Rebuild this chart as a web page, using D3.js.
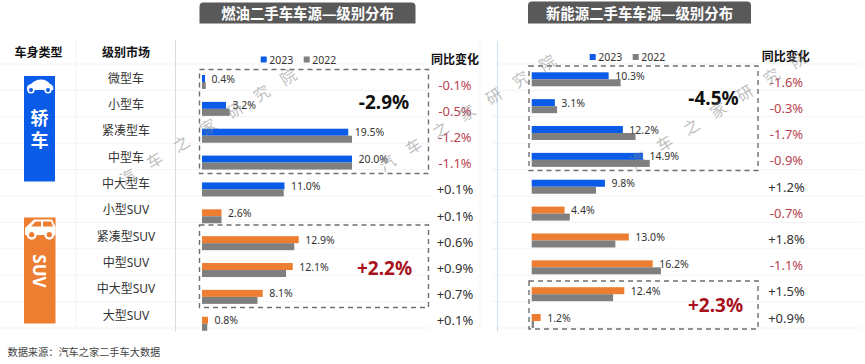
<!DOCTYPE html>
<html>
<head>
<meta charset="utf-8">
<script src="https://cdn.jsdelivr.net/npm/d3@7"></script>
<style>
    html, body { margin: 0; padding: 0; background: #fff; }
    text { font-family: "Noto Sans", "Noto Sans CJK SC", sans-serif; }
</style>
</head>
<body>
<div id="chart"></div>
<script>
const categories = ["微型车", "小型车", "紧凑型车", "中型车", "中大型车", "小型SUV", "紧凑型SUV", "中型SUV", "中大型SUV", "大型SUV"];
const bodyTypes = ["轿车", "轿车", "轿车", "轿车", "轿车", "SUV", "SUV", "SUV", "SUV", "SUV"];
const years = ["2023", "2022"];

const fuel2023 = [0.4, 3.2, 19.5, 20.0, 11.0, 2.6, 12.9, 12.1, 8.1, 0.8];
const fuel2022 = [0.5, 3.7, 20.0, 20.0, 10.9, 2.6, 12.3, 11.2, 7.4, 0.7];
const fuelChange = ["-0.1%", "-0.5%", "-1.2%", "-1.1%", "+0.1%", "+0.1%", "+0.6%", "+0.9%", "+0.7%", "+0.1%"];

const nev2023 = [10.3, 3.1, 12.2, 14.9, 9.8, 4.4, 13.0, 16.2, 12.4, 1.2];
const nev2022 = [11.9, 3.4, 13.9, 15.8, 8.6, 5.1, 11.2, 17.3, 10.9, 0.3];
const nevChange = ["-1.6%", "-0.3%", "-1.7%", "-0.9%", "+1.2%", "-0.7%", "+1.8%", "-1.1%", "+1.5%", "+0.9%"];

const BLUE = "#0a5ce8", ORANGE = "#ed7d31", GRAY = "#7f7f7f", RED = "#b8434e", DARKRED = "#a8111c";

const svg = d3.select("#chart").append("svg")
    .attr("width", 865)
    .attr("height", 364)
    .style("display", "block");

// faint table rules behind everything
const catY = d3.scalePoint().domain(categories).range([78, 315.3]);
const ruleY = d3.range(11).map(i => 64 + i * 26.4);
[[0, 430], [492, 862]].forEach(([a, b]) => {
    svg.append("g").selectAll("line").data(ruleY).join("line")
        .attr("x1", a).attr("x2", b)
        .attr("y1", d => d).attr("y2", d => d)
        .attr("stroke", "#f3f3f3");
});
[[76, 40, 328, "#f3f3f3"], [175.5, 40, 332, "#d5dee5"], [480, 40, 328, "#f6f6f6"], [497.5, 41, 332, "#cfe1ec"]].forEach(([x, y1, y2, c]) => {
    svg.append("line").attr("x1", x).attr("x2", x).attr("y1", y1).attr("y2", y2).attr("stroke", c);
});

function titleBar(x, y, w, h, label) {
    const r = 4;
    svg.append("path")
        .attr("d", `M${x},${y + h}V${y + r}Q${x},${y} ${x + r},${y}H${x + w - r}Q${x + w},${y} ${x + w},${y + r}V${y + h}Z`)
        .attr("fill", "#595959");
    svg.append("text")
        .attr("x", x + w / 2).attr("y", y + h / 2 + 0.5)
        .attr("text-anchor", "middle").attr("dominant-baseline", "central")
        .attr("font-size", 14.4).attr("font-weight", 700).attr("fill", "#fff")
        .text(label);
}
titleBar(199.5, 2.5, 216, 21, "燃油二手车车源—级别分布");
titleBar(528, 1.5, 223, 22, "新能源二手车车源—级别分布");

function centered(x, y, label, size, weight, fill) {
    return svg.append("text")
        .attr("x", x).attr("y", y)
        .attr("text-anchor", "middle").attr("dominant-baseline", "central")
        .attr("font-size", size).attr("font-weight", weight).attr("fill", fill)
        .text(label);
}
centered(38.5, 52, "车身类型", 12, 700, "#111");
centered(126, 52, "级别市场", 12, 700, "#111");
centered(455, 59, "同比变化", 12, 700, "#111");
centered(785.7, 56.7, "同比变化", 12, 700, "#111");

svg.append("g").selectAll("text").data(categories).join("text")
    .attr("x", 126)
    .attr("y", d => catY(d))
    .attr("text-anchor", "middle").attr("dominant-baseline", "central")
    .attr("font-size", 12).attr("fill", "#333")
    .text(d => d);

// body type blocks
svg.append("rect").attr("x", 24).attr("y", 76).attr("width", 31).attr("height", 105.5).attr("fill", BLUE);
svg.append("rect").attr("x", 24).attr("y", 217.5).attr("width", 31.5).attr("height", 106).attr("fill", ORANGE);
centered(39.5, 118, "轿", 18, 700, "#fff");
centered(39.5, 140, "车", 18, 700, "#fff");
svg.append("text")
    .attr("transform", "translate(39.5,271) rotate(90)")
    .attr("text-anchor", "middle").attr("dominant-baseline", "central")
    .attr("font-size", 17).attr("font-weight", 700).attr("fill", "#fff")
    .text("SUV");

// car icons
const sedan = svg.append("g");
sedan.append("path").attr("d", "M27,90Q26,85 31,84Q35,79.5 41,79.5Q47,79.5 50,84Q54,85 53.3,90Z").attr("fill", "#fff");
sedan.selectAll("circle").data([31, 48]).join("circle")
    .attr("cx", d => d).attr("cy", 90).attr("r", 2.8)
    .attr("fill", BLUE).attr("stroke", "#fff").attr("stroke-width", 1.6);
const suv = svg.append("g");
suv.append("path").attr("d", "M25,235V228L34,219.5H52L55.5,227V235Z").attr("fill", "#fff");
suv.append("path").attr("d", "M35.5,221.5H41V226.5H31ZM43,221.5H51L53,226.5H43Z").attr("fill", ORANGE);
suv.selectAll("circle").data([31.7, 49.3]).join("circle")
    .attr("cx", d => d).attr("cy", 234.7).attr("r", 3.8)
    .attr("fill", ORANGE).attr("stroke", "#fff").attr("stroke-width", 2.4);

function barPanel(cfg) {
    const x = d3.scaleLinear().domain([0, 20]).range([cfg.left, cfg.left + 20 * cfg.pxPerPct]);
    const y = d3.scaleBand().domain(categories).range([cfg.top, cfg.top + 268.6]);
    const barH = 7;
    const color = i => (bodyTypes[i] === "轿车" ? BLUE : ORANGE);

    const g = svg.append("g");
    g.selectAll(".bar-cur").data(cfg.cur).join("rect")
        .attr("class", "bar-cur")
        .attr("x", x(0))
        .attr("y", (d, i) => y(categories[i]))
        .attr("width", d => x(d) - x(0))
        .attr("height", barH)
        .attr("fill", (d, i) => color(i));
    g.selectAll(".bar-prev").data(cfg.prev).join("rect")
        .attr("class", "bar-prev")
        .attr("x", x(0))
        .attr("y", (d, i) => y(categories[i]) + barH)
        .attr("width", d => x(d) - x(0))
        .attr("height", barH)
        .attr("fill", GRAY);
    g.selectAll(".val").data(cfg.cur).join("text")
        .attr("class", "val")
        .attr("x", d => x(d) + 6.5)
        .attr("y", (d, i) => y(categories[i]) + barH / 2)
        .attr("dominant-baseline", "central")
        .attr("font-size", 10.5).attr("fill", "#333")
        .text(d => d3.format(".1f")(d) + "%");

    const changeY = d3.scalePoint().domain(categories).range(cfg.changeRange);
    g.selectAll(".chg").data(cfg.change).join("text")
        .attr("class", "chg")
        .attr("x", cfg.changeX)
        .attr("y", (d, i) => changeY(categories[i]))
        .attr("text-anchor", "middle").attr("dominant-baseline", "central")
        .attr("font-size", 13)
        .attr("fill", d => (d[0] === "-" ? RED : "#333"))
        .text(d => d);

    // legend
    const leg = g.selectAll(".leg").data(years).join("g")
        .attr("class", "leg")
        .attr("transform", (d, i) => `translate(${cfg.legendX + i * 43},${cfg.legendY})`);
    leg.append("rect").attr("y", -3).attr("width", 6).attr("height", 6)
        .attr("fill", (d, i) => (i === 0 ? BLUE : GRAY));
    leg.append("text").attr("x", 8.5)
        .attr("dominant-baseline", "central")
        .attr("font-size", 10.5).attr("fill", "#333")
        .text(d => d);

    // dashed callouts
    cfg.boxes.forEach(b => {
        g.append("rect")
            .attr("x", b.x).attr("y", b.y).attr("width", b.w).attr("height", b.h)
            .attr("fill", "none").attr("stroke", "#6f6f6f").attr("stroke-width", 1.4)
            .attr("stroke-dasharray", "5 4");
        centered(b.tx, b.ty, b.label, 19, 700, b.fill);
    });
}

barPanel({
    left: 202, pxPerPct: 7.5, top: 75,
    cur: fuel2023, prev: fuel2022, change: fuelChange,
    changeX: 455, changeRange: [85, 320],
    legendX: 260.7, legendY: 59.5,
    boxes: [
        { x: 199.5, y: 69.5, w: 229, h: 104, tx: 384, ty: 101.5, label: "-2.9%", fill: "#111" },
        { x: 199.5, y: 225, w: 229, h: 82.5, tx: 384.5, ty: 268, label: "+2.2%", fill: DARKRED }
    ]
});

barPanel({
    left: 531.7, pxPerPct: 7.47, top: 72.3,
    cur: nev2023, prev: nev2022, change: nevChange,
    changeX: 786.5, changeRange: [81.7, 317.7],
    legendX: 589.7, legendY: 57,
    boxes: [
        { x: 529, y: 66, w: 229, h: 104.5, tx: 713.5, ty: 98, label: "-4.5%", fill: "#111" },
        { x: 529, y: 281, w: 229, h: 48, tx: 715.5, ty: 305, label: "+2.3%", fill: DARKRED }
    ]
});

svg.append("text")
    .attr("x", 7.5).attr("y", 351.5)
    .attr("dominant-baseline", "central")
    .attr("font-size", 10.2).attr("fill", "#444")
    .text("数据来源：汽车之家二手车大数据");

// watermark
svg.append("g").selectAll("text").data([[128, 177], [387, 163], [638, 160]]).join("text")
    .attr("transform", d => `translate(${d[0]},${d[1]}) rotate(-32)`)
    .attr("x", -8)
    .attr("dominant-baseline", "central")
    .attr("font-size", 16)
    .attr("letter-spacing", 15.5)
    .attr("fill", "#888").attr("fill-opacity", 0.55)
    .text("汽车之家研究院");
</script>
</body>
</html>
